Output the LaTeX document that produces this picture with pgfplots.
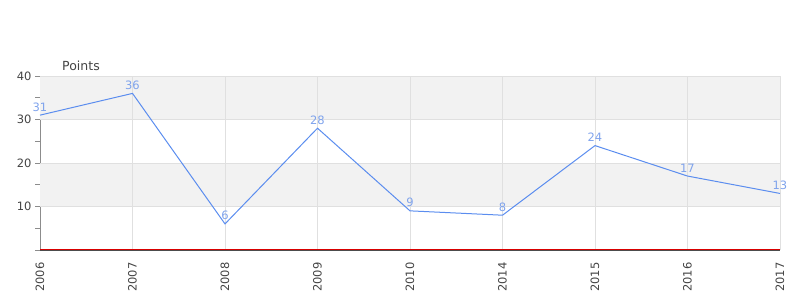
\documentclass[border=0pt]{standalone}
\usepackage{pgfplots}
\pgfplotsset{compat=1.18}
\usepackage{fontspec}
\setmainfont{DejaVu Sans}
\definecolor{linec}{HTML}{5B8DEF}
\definecolor{labc}{HTML}{7FA3EC}
\definecolor{band}{HTML}{F2F2F2}
\definecolor{gridc}{HTML}{E0E0E0}
\definecolor{txt}{HTML}{444444}
\begin{document}
\begin{tikzpicture}[x=1pt,y=1pt]
\path[use as bounding box] (0,0) rectangle (800,300);
\node[anchor=base west, text=txt, font=\fontsize{12.5}{14}\selectfont, inner sep=0] at (62,229) {Points};
\begin{axis}[
  at={(40pt,50pt)}, anchor=south west, scale only axis,
  width=740pt, height=174pt,
  xmin=0, xmax=8, ymin=0, ymax=40,
  clip=false,
  axis x line*=bottom, axis y line*=left,
  x axis line style={draw=none},
  y axis line style={draw=gray!90, line width=0.8pt},
  xtick={0,...,8},
  xticklabels={2006,2007,2008,2009,2010,2014,2015,2016,2017},
  x tick label style={rotate=90, anchor=east, text=txt, font=\fontsize{11.5}{13}\selectfont},
  xticklabel shift=4pt,
  major x tick style={draw=none},
  ytick={0,10,20,30,40},
  yticklabels={,10,20,30,40},
  minor ytick={5,15,25,35},
  y tick label style={text=txt, font=\fontsize{11.5}{13}\selectfont},
  tick align=outside,
  major tick length=5pt, minor tick length=5pt,
  y tick style={draw=gray!90, line width=0.8pt},
  /pgf/number format/assume math mode=true,
]
\addplot[fill=band, draw=none] coordinates {(0,30) (8,30) (8,40) (0,40)} -- cycle;
\addplot[fill=band, draw=none] coordinates {(0,10) (8,10) (8,20) (0,20)} -- cycle;
\draw[gridc, line width=0.8pt] (axis cs:0,10) -- (axis cs:8,10) (axis cs:0,20) -- (axis cs:8,20) (axis cs:0,30) -- (axis cs:8,30) (axis cs:0,40) -- (axis cs:8,40);
\draw[gridc, line width=0.8pt] (axis cs:1,0) -- (axis cs:1,40) (axis cs:2,0) -- (axis cs:2,40) (axis cs:3,0) -- (axis cs:3,40) (axis cs:4,0) -- (axis cs:4,40) (axis cs:5,0) -- (axis cs:5,40) (axis cs:6,0) -- (axis cs:6,40) (axis cs:7,0) -- (axis cs:7,40) (axis cs:8,0) -- (axis cs:8,40);
\addplot[color=linec, line width=1pt, mark=none,
  nodes near coords, every node near coord/.append style={text=labc, font=\fontsize{11.5}{13}\selectfont, anchor=south, yshift=0pt}]
  coordinates {(0,31) (1,36) (2,6) (3,28) (4,9) (5,8) (6,24) (7,17) (8,13)};
\draw[black!70, line width=1.2pt] ([yshift=-0.3pt]axis cs:0,0) -- ([yshift=-0.3pt]axis cs:8,0);
\draw[red!85!black, line width=0.7pt] ([yshift=0.8pt]axis cs:0,0) -- ([yshift=0.8pt]axis cs:8,0);
\end{axis}
\end{tikzpicture}
\end{document}
